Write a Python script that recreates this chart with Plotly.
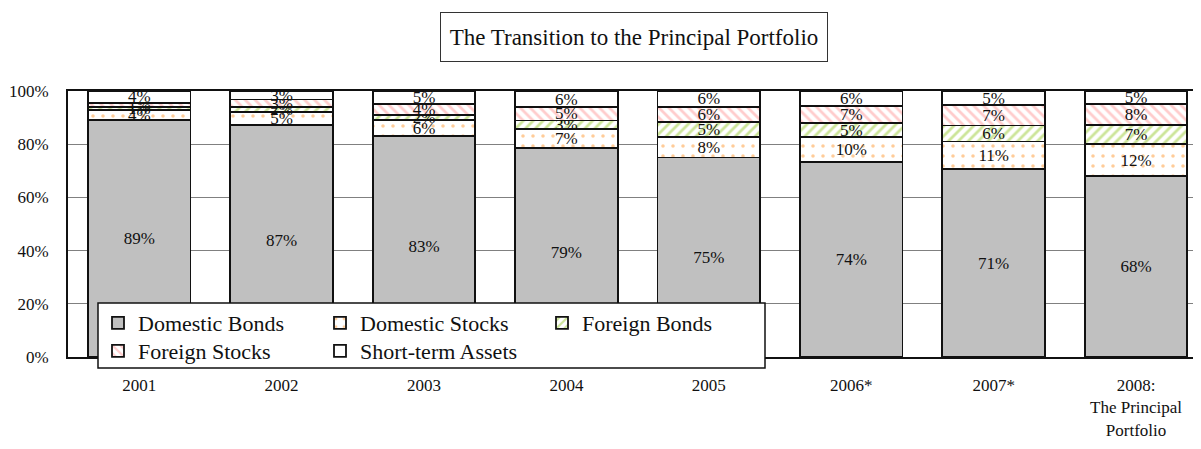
import plotly.graph_objects as go

years = ["2001", "2002", "2003", "2004", "2005", "2006*", "2007*",
         "2008:<br>The Principal<br>Portfolio"]

# shares (%)
domestic_bonds = [89.0, 87.3, 83.0, 78.6, 75.0, 73.2, 70.6, 68.0]
domestic_stocks = [3.8, 4.7, 6.0, 7.1, 7.6, 9.4, 10.4, 12.0]
foreign_bonds = [1.2, 2.1, 2.0, 3.2, 5.6, 5.4, 6.0, 7.2]
foreign_stocks = [1.6, 2.7, 4.0, 5.0, 5.8, 6.4, 7.6, 7.9]
short_term = [4.4, 3.2, 5.0, 6.1, 6.0, 5.6, 5.4, 4.9]

# printed labels
db_labels = ["89%", "87%", "83%", "79%", "75%", "74%", "71%", "68%"]
ds_labels = ["4%", "5%", "6%", "7%", "8%", "10%", "11%", "12%"]
fb_labels = ["1%", "2%", "2%", "3%", "5%", "5%", "6%", "7%"]
fs_labels = ["1%", "3%", "4%", "5%", "6%", "7%", "7%", "8%"]
st_labels = ["4%", "3%", "5%", "6%", "6%", "6%", "5%", "5%"]

title_text = "The Transition to the Principal Portfolio"

SERIF = "Liberation Serif, Times New Roman, serif"
LINE = dict(color="#111111", width=1.8)

series = [
    ("Domestic Bonds", domestic_bonds, db_labels,
     dict(color="#c0c0c0", line=LINE), "legend"),
    ("Domestic Stocks", domestic_stocks, ds_labels,
     dict(color="white", line=LINE,
          pattern=dict(shape=".", fgcolor="#ff9933", bgcolor="white",
                       size=10, solidity=0.1)), "legend"),
    ("Foreign Bonds", foreign_bonds, fb_labels,
     dict(color="white", line=LINE,
          pattern=dict(shape="/", fgcolor="#99cc33", bgcolor="white",
                       size=7, solidity=0.4)), "legend"),
    ("Foreign Stocks", foreign_stocks, fs_labels,
     dict(color="white", line=LINE,
          pattern=dict(shape="\\", fgcolor="#ff9999", bgcolor="white",
                       size=7, solidity=0.4)), "legend2"),
    ("Short-term Assets", short_term, st_labels,
     dict(color="white", line=LINE), "legend2"),
]

fig = go.Figure()
for name, vals, labels, marker, lg in series:
    fig.add_trace(go.Bar(
        x=years, y=vals, name=name, text=labels,
        textposition="inside", insidetextanchor="middle",
        constraintext="none", textangle=0,
        textfont=dict(family=SERIF, size=17, color="#111111"),
        marker=marker, legend=lg, hoverinfo="skip",
    ))

# page body adds an 8px offset; figure is sized to compensate
OFF = 8
W, HGT = 1201 - OFF, 449 - OFF
L, T, BM = 68 - OFF, 91 - OFF, 92
H_PLOT = HGT - T - BM
W_PLOT = W - L

def py(pix):
    # pixel y in the window -> paper coordinate
    return (449 - BM - pix) / H_PLOT

def px(pix):
    return (pix - 68) / W_PLOT

legend_common = dict(orientation="h", xanchor="left", yanchor="middle",
                     entrywidth=177, traceorder="normal",
                     bgcolor="rgba(0,0,0,0)", borderwidth=0,
                     font=dict(family=SERIF, size=22, color="#111111"))

fig.update_layout(
    width=W, height=HGT,
    margin=dict(l=L, r=0, t=T, b=BM),
    barmode="stack", bargap=0.28,
    paper_bgcolor="white", plot_bgcolor="white",
    font=dict(family=SERIF, color="#111111"),
    legend=dict(x=px(98), y=py(323), **legend_common),
    legend2=dict(x=px(98), y=py(351), **legend_common),
    shapes=[dict(type="rect", xref="paper", yref="paper",
                 x0=px(98), x1=px(765), y0=py(368), y1=py(303),
                 line=dict(color="#111111", width=1.5),
                 fillcolor="white", layer="above")],
    annotations=[dict(text=title_text, xref="paper", yref="paper",
                      x=px(634), y=py(37), xanchor="center", yanchor="middle",
                      showarrow=False, width=378, height=40,
                      bordercolor="#333333", borderwidth=1, borderpad=4,
                      font=dict(family=SERIF, size=23, color="#111111"))],
)

fig.update_xaxes(type="category", range=[-0.5, 7.456],
                 showline=True, linecolor="#111111", linewidth=1.8,
                 mirror=True, showgrid=False, ticks="",
                 ticklabelstandoff=12,
                 tickfont=dict(family=SERIF, size=17, color="#111111"))
fig.update_yaxes(range=[0, 100], dtick=20, ticksuffix="%",
                 showline=True, linecolor="#111111", linewidth=1.8,
                 mirror=False, showgrid=True, gridcolor="#808080",
                 gridwidth=1, ticks="", zeroline=False,
                 ticklabelstandoff=14,
                 tickfont=dict(family=SERIF, size=17, color="#111111"))

fig.write_html("out.html")
